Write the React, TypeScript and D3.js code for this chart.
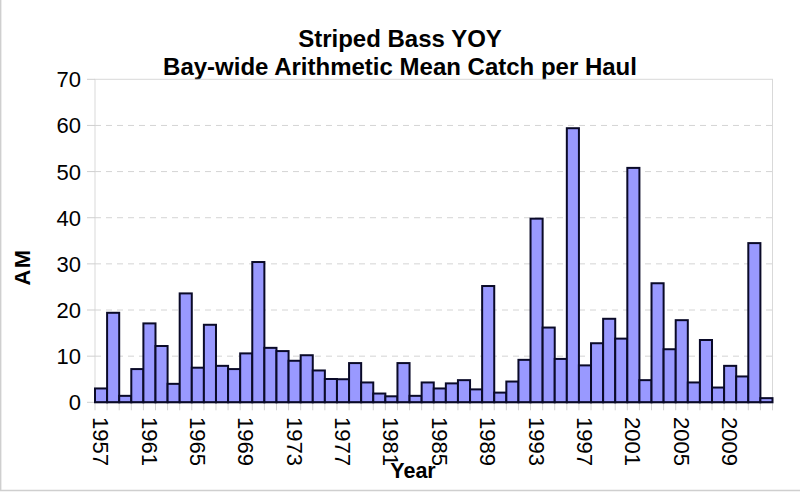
import React from "react";
import * as d3 from "d3";

const years: number[] = d3.range(1957, 2013);
const values: number[] = [
  3.0, 19.4, 1.4, 7.2, 17.1, 12.2, 4.0, 23.6, 7.5, 16.8,
  7.9, 7.2, 10.6, 30.4, 11.8, 11.1, 9.0, 10.2, 6.9, 5.05,
  5.0, 8.5, 4.3, 1.9, 1.3, 8.5, 1.4, 4.3, 3.0, 4.1,
  4.8, 2.8, 25.2, 2.1, 4.5, 9.2, 39.8, 16.2, 9.4, 59.4,
  8.0, 12.8, 18.1, 13.8, 50.8, 4.8, 25.8, 11.5, 17.8, 4.3,
  13.5, 3.2, 7.9, 5.6, 34.5, 0.9,
];
const yTicks: number[] = [0, 10, 20, 30, 40, 50, 60, 70];
const xLabelYears: number[] = years.filter((y) => (y - 1957) % 4 === 0);
const titleLines: string[] = ["Striped Bass YOY", "Bay-wide Arithmetic Mean Catch per Haul"];

const W = 800;
const H = 492;
const plot = { left: 95, right: 772.5, top: 79.3, bottom: 402.3 };
const font = "'Liberation Sans', Arial, sans-serif";

export default function App() {
  const x = d3
    .scaleBand<number>()
    .domain(years)
    .range([plot.left, plot.right])
    .padding(0);
  const y = d3.scaleLinear().domain([0, 70]).range([plot.bottom, plot.top]);
  const bw = x.bandwidth();

  return (
    <svg
      width={W}
      height={H}
      style={{ position: "absolute", left: 0, top: 0, background: "#fff" }}
      fontFamily={font}
    >
      {/* outer frame */}
      <line x1={0.7} y1={0} x2={0.7} y2={490.5} stroke="#cfcfcf" strokeWidth={1.4} />
      <line x1={0} y1={490.5} x2={W} y2={490.5} stroke="#cfcfcf" strokeWidth={1.4} />

      {/* titles */}
      {titleLines.map((t, i) => (
        <text
          key={t}
          x={400}
          y={47 + i * 27.5}
          textAnchor="middle"
          fontSize={24}
          fontWeight="bold"
          fill="#000"
        >
          {t}
        </text>
      ))}

      {/* plot area border */}
      <rect
        x={plot.left}
        y={plot.top}
        width={plot.right - plot.left}
        height={plot.bottom - plot.top}
        fill="none"
        stroke="#d9d9d9"
        strokeWidth={1}
      />

      {/* gridlines & y ticks */}
      {yTicks.map((t) => (
        <g key={t}>
          {t > 0 && t < 70 && (
            <line
              x1={plot.left}
              x2={plot.right}
              y1={y(t)}
              y2={y(t)}
              stroke="#d4d4d4"
              strokeWidth={1}
              strokeDasharray="6,5"
            />
          )}
          <line x1={plot.left - 8} x2={plot.left} y1={y(t)} y2={y(t)} stroke="#cfcfcf" strokeWidth={1} />
          <text
            x={81}
            y={y(t)}
            dy="0.36em"
            textAnchor="end"
            fontSize={22}
            fill="#000"
          >
            {t}
          </text>
        </g>
      ))}

      {/* x ticks at category boundaries */}
      {years.map((yr) => (
        <line
          key={"t" + yr}
          x1={(x(yr) as number)}
          x2={(x(yr) as number)}
          y1={plot.bottom}
          y2={plot.bottom + 8}
          stroke="#d4d4d4"
          strokeWidth={1}
        />
      ))}
      <line
        x1={plot.right}
        x2={plot.right}
        y1={plot.bottom}
        y2={plot.bottom + 8}
        stroke="#d4d4d4"
        strokeWidth={1}
      />

      {/* bars */}
      {years.map((yr, i) => (
        <rect
          key={yr}
          x={x(yr) as number}
          y={y(values[i])}
          width={bw}
          height={plot.bottom - y(values[i])}
          fill="#9999ff"
          stroke="#0a0a28"
          strokeWidth={2}
        />
      ))}

      {/* baseline */}
      <line x1={plot.left} x2={plot.right} y1={plot.bottom} y2={plot.bottom} stroke="#0a0a28" strokeWidth={1.5} />

      {/* x labels */}
      {xLabelYears.map((yr) => {
        const cx = (x(yr) as number) + bw / 2;
        return (
          <text
            key={"l" + yr}
            transform={`translate(${cx},${417}) rotate(90)`}
            dy="0.36em"
            fontSize={22}
            fill="#000"
          >
            {yr}
          </text>
        );
      })}

      {/* axis titles */}
      <text
        transform={`translate(${22},${267}) rotate(-90)`}
        textAnchor="middle"
        dy="0.36em"
        fontSize={22}
        fontWeight="bold"
        letterSpacing={1.5}
        fill="#000"
      >
        AM
      </text>
      <text x={413} y={478} textAnchor="middle" fontSize={21.5} fontWeight="bold" fill="#000">
        Year
      </text>
    </svg>
  );
}
